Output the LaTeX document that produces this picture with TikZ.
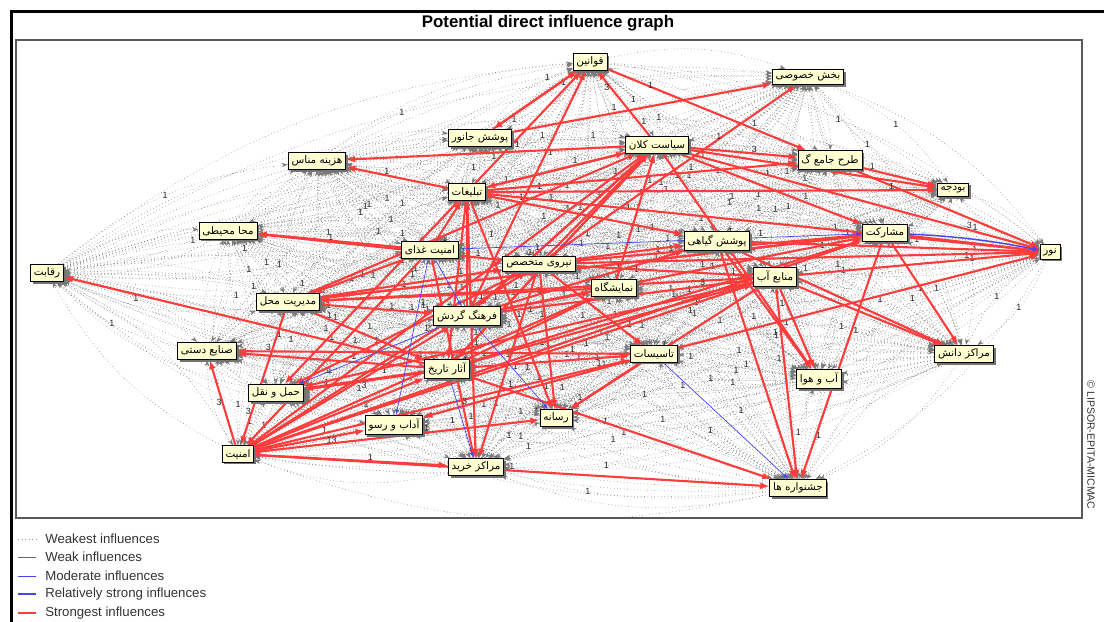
\documentclass[tikz,border=0pt]{standalone}
\usepackage{fontspec}
\setmainfont{Liberation Sans}
\newfontfamily\farsi[Script=Arabic]{DejaVu Sans}
\TeXXeTstate=1
\newcommand\fa[1]{{\farsi\beginR #1\endR}}
\usetikzlibrary{arrows.meta,shadows}
\definecolor{vbox}{RGB}{255,255,210}
\definecolor{strongred}{RGB}{255,60,60}
\definecolor{modblue}{RGB}{70,70,235}
\pgfdeclarelayer{bg}
\pgfsetlayers{bg,main}

\begin{document}
\begin{tikzpicture}[x={(0.025cm,0)},y={(0,-0.025cm)},
		var/.style={draw=black,fill=vbox,line width=0.6pt,inner sep=2.4pt,
			font=\fontsize{7.4}{8.5}\selectfont,
			drop shadow={shadow xshift=1.6pt,shadow yshift=-1.6pt,fill=black!55,opacity=1}},
		weakest/.style={draw=black!52,dotted,line width=0.4pt,-{Stealth[length=4.5pt,width=3pt]}},
		strongest/.style={draw=strongred,line width=1.5pt,-{Latex[length=6.5pt,width=5pt]}},
		moderate/.style={draw=modblue,line width=0.5pt,-{Latex[length=4pt,width=3pt]}},
		relstrong/.style={draw=modblue,line width=1pt,-{Latex[length=5pt,width=4pt]}},
		num/.style={font=\fontsize{6.4}{7}\selectfont,inner sep=0pt,text=black!85},
		legend/.style={anchor=west,inner sep=0pt,font=\fontsize{9.4}{10}\selectfont,text=black!80}]
		
		\useasboundingbox (0,0) rectangle (1104,622);
		\draw[line width=2.2pt] (11.5,622) -- (11.5,11.5) -- (1104,11.5);
		\draw[black!65,line width=0.8pt] (16,40) rectangle (1082,518);
		\node (title) at (548,23) {\fontsize{12}{13}\selectfont\bfseries Potential direct influence graph};
		\node[rotate=-90,font=\fontsize{7.5}{8}\selectfont,text=black!80] (copyr) at (1091,445) {© LIPSOR-EPITA-MICMAC};
		
		\node[var] (qavanin)    at (590,62)  {\fa{قوانین}};
		\node[var] (khosusi)    at (808,77)  {\fa{بخش خصوصی}};
		\node[var] (janvar)     at (480,138) {\fa{پوشش جانور}};
		\node[var] (siasat)     at (657,145) {\fa{سیاست کلان}};
		\node[var] (hazine)     at (317,161) {\fa{هزینه مناس}};
		\node[var] (tarh)       at (830,160) {\fa{طرح جامع گ}};
		\node[var] (tablig)     at (467,192) {\fa{تبلیغات}};
		\node[var] (budje)      at (953,190) {\fa{بودجه}};
		\node[var] (mohiti)     at (228,231) {\fa{محا محیطی}};
		\node[var] (mosharekat) at (885,233) {\fa{مشارکت}};
		\node[var] (ghaza)      at (430,250) {\fa{امنیت غذای}};
		\node[var] (giahi)      at (717,241) {\fa{پوشش گیاهی}};
		\node[var] (nur)        at (1050,252) {\fa{نور}};
		\node[var] (reghabat)   at (47,273)  {\fa{رقابت}};
		\node[var] (niru)       at (539,264) {\fa{نیروی متخصص}};
		\node[var] (ab)         at (775,277) {\fa{منابع آب}};
		\node[var] (namayesh)   at (614,288) {\fa{نمایشگاه}};
		\node[var] (modiriat)   at (288,302) {\fa{مدیریت محل}};
		\node[var] (farhang)    at (467,316) {\fa{فرهنگ گردش}};
		\node[var] (sanaye)     at (207,351) {\fa{صنایع دستی}};
		\node[var] (tasisat)    at (654,354) {\fa{تاسیسات}};
		\node[var] (danesh)     at (964,354) {\fa{مراکز دانش}};
		\node[var] (asar)       at (447,369) {\fa{آثار تاریخ}};
		\node[var] (havva)      at (819,379) {\fa{آب و هوا}};
		\node[var] (haml)       at (276,393) {\fa{حمل و نقل}};
		\node[var] (resane)     at (556,418) {\fa{رسانه}};
		\node[var] (adab)       at (394,425) {\fa{آداب و رسو}};
		\node[var] (amniat)     at (238,454) {\fa{امنیت}};
		\node[var] (kharid)     at (476,467) {\fa{مراکز خرید}};
		\node[var] (jashn)      at (798,488) {\fa{جشنواره ها}};
		
		\def\vlist{qavanin,khosusi,janvar,siasat,hazine,tarh,tablig,budje,mohiti,mosharekat,ghaza,giahi,nur,reghabat,niru,ab,namayesh,modiriat,farhang,sanaye,tasisat,danesh,asar,havva,haml,resane,adab,amniat,kharid,jashn}
		
		\begin{pgfonlayer}{bg}
		\begin{scope}
			\clip (16,40) rectangle (1082,518);
			\foreach \a [count=\i] in \vlist {
				\foreach \b [count=\j] in \vlist {
					\ifnum\i<\j
					\pgfmathtruncatemacro\ka{mod(\i+2*\j,3)}
					\pgfmathtruncatemacro\kb{mod(2*\i+\j,3)}
					\ifnum\ka=0 \def\la{1}\else\def\la{}\fi
					\ifnum\kb=0 \def\lb{1}\else\def\lb{}\fi
					\draw[weakest] (\a) to[bend left=16] node[num,pos=.5]{\la} (\b);
					\draw[weakest] (\b) to[bend left=16] node[num,pos=.5]{\lb} (\a);
					\fi
				}
			}
		\end{scope}
		
		\draw[strongest] (janvar) -- node[num,pos=.8,right]{1} (qavanin);
		\draw[strongest] (qavanin) -- (janvar);
		\draw[strongest] (siasat) -- node[num,pos=.75,left]{3} (qavanin);
		\draw[strongest] (tablig) -- (qavanin);
		\draw[strongest] (farhang) -- (qavanin);
		\draw[strongest] (qavanin) -- node[num,pos=.2,right]{1} (tarh);
		\draw[strongest] (janvar) -- (khosusi);
		\draw[strongest] (niru) -- node[num,pos=.7,left]{1} (khosusi);
		\draw[strongest] (siasat) -- (hazine);
		\draw[strongest] (tablig) -- node[num,pos=.6,above]{1} (hazine);
		\draw[strongest] (ghaza) -- (mohiti);
		\draw[strongest] (niru) -- node[num,pos=.7,above]{1} (mohiti);
		\draw[strongest] (asar) -- (reghabat);
		\draw[strongest] (amniat) -- node[num,pos=.5,left]{3} (sanaye);
		\draw[strongest] (asar) -- (sanaye);
		\draw[strongest] (tasisat) -- node[num,pos=.92,above]{3} (sanaye);
		\draw[strongest,line width=2.2pt] (asar) -- node[num,pos=.5,below]{3} (haml);
		\draw[strongest] (tablig) -- (haml);
		\draw[strongest] (niru) -- (haml);
		\draw[strongest] (ab) -- (haml);
		\draw[strongest] (ghaza) -- (modiriat);
		\draw[strongest] (namayesh) -- (modiriat);
		\draw[strongest] (mosharekat) -- (modiriat);
		\draw[strongest] (modiriat) -- node[num,pos=.75,left]{3} (amniat);
		\draw[strongest] (ghaza) -- (amniat);
		\draw[strongest] (amniat) -- node[num,pos=.7,below]{13} (adab);
		\draw[strongest] (amniat) -- node[num,pos=.6,above]{1} (kharid);
		\draw[strongest] (amniat) -- node[num,pos=.5,above]{1} (jashn);
		\draw[strongest] (amniat) -- (asar);
		\draw[strongest] (amniat) -- (tasisat);
		\draw[strongest] (amniat) -- (niru);
		\draw[strongest] (amniat) -- (ab);
		\draw[strongest] (amniat) -- (mosharekat);
		\draw[strongest] (amniat) -- (namayesh);
		\draw[strongest] (amniat) -- (farhang);
		\draw[strongest] (amniat) -- node[num,pos=.6,above]{3} (resane);
		\draw[strongest] (amniat) -- (siasat);
		\draw[strongest] (tasisat) -- (resane);
		\draw[strongest] (niru) -- (resane);
		\draw[strongest] (ab) -- (resane);
		\draw[strongest] (tablig) -- (resane);
		\draw[strongest] (niru) -- (kharid);
		\draw[strongest] (tablig) -- (kharid);
		\draw[strongest] (ghaza) -- (kharid);
		\draw[strongest] (ab) -- (jashn);
		\draw[strongest] (mosharekat) -- (jashn);
		\draw[strongest] (giahi) -- (jashn);
		\draw[strongest] (asar) -- (jashn);
		\draw[strongest] (ab) -- (havva);
		\draw[strongest] (giahi) -- (havva);
		\draw[strongest] (siasat) -- (havva);
		\draw[strongest] (mosharekat) -- (danesh);
		\draw[strongest] (ab) -- (danesh);
		\draw[strongest] (giahi) -- (danesh);
		\draw[strongest] (mosharekat) -- node[num,pos=.5,below]{3} (nur);
		\draw[strongest] (tarh) -- (nur);
		\draw[strongest] (siasat) -- node[num,pos=.8,above]{3} (nur);
		\draw[strongest] (tablig) -- (nur);
		\draw[strongest] (ab) -- node[num,pos=.7,above]{1} (nur);
		\draw[strongest] (giahi) -- (nur);
		\draw[strongest] (tasisat) -- (nur);
		\draw[strongest] (niru) -- (nur);
		\draw[strongest] (tarh) -- (budje);
		\draw[strongest] (siasat) -- (budje);
		\draw[strongest] (tablig) -- node[num,pos=.9,above]{1} (budje);
		\draw[strongest] (niru) -- (mosharekat);
		\draw[strongest] (siasat) -- (mosharekat);
		\draw[strongest] (farhang) -- (mosharekat);
		\draw[strongest] (asar) -- (mosharekat);
		\draw[strongest] (modiriat) -- (mosharekat);
		\draw[strongest] (siasat) -- node[num,pos=.6,above]{3} (tarh);
		\draw[strongest] (tablig) -- (tarh);
		\draw[strongest] (tablig) -- (siasat);
		\draw[strongest] (farhang) -- (siasat);
		\draw[strongest] (asar) -- (siasat);
		\draw[strongest] (niru) -- (siasat);
		\draw[strongest] (modiriat) -- (siasat);
		\draw[strongest] (namayesh) -- (siasat);
		\draw[strongest] (siasat) -- (tablig);
		\draw[strongest] (farhang) -- (tablig);
		\draw[strongest] (ghaza) -- (tablig);
		\draw[strongest] (niru) -- (giahi);
		\draw[strongest] (tablig) -- (giahi);
		\draw[strongest] (farhang) -- (giahi);
		\draw[strongest] (asar) -- (ab);
		\draw[strongest] (modiriat) -- (ab);
		\draw[strongest] (farhang) -- node[num,pos=.8,above]{3} (ab);
		\draw[strongest] (niru) -- (ab);
		\draw[strongest] (modiriat) -- (niru);
		\draw[strongest] (farhang) -- (namayesh);
		\draw[strongest] (asar) -- (namayesh);
		\draw[strongest] (modiriat) -- (farhang);
		\draw[strongest] (siasat) -- (farhang);
		\draw[strongest] (asar) -- (tasisat);
		\draw[strongest] (niru) -- (tasisat);
		\draw[strongest] (modiriat) -- (asar);
		\draw[strongest] (tablig) -- (asar);
		\draw[strongest] (siasat) -- (asar);
		\draw[strongest] (tasisat) -- node[num,pos=.8,above]{3} (adab);
		
		\draw[moderate] (ghaza) -- (adab);
		\draw[moderate] (asar) -- (kharid);
		\draw[moderate] (tasisat) -- (jashn);
		\draw[moderate] (farhang) -- (haml);
		\draw[moderate] (ghaza) -- (farhang);
		\draw[moderate] (ghaza) -- (mosharekat);
		\draw[moderate] (farhang) -- (resane);
		\draw[relstrong] (mosharekat) to[bend left=4] (nur);
		\end{pgfonlayer}
		
		\draw[black!40,dotted,line width=0.5pt] (18,539) -- (36,539);
		\draw[black!60,line width=0.5pt] (18,557) -- (36,557);
		\draw[modblue,line width=0.5pt] (18,576) -- (36,576);
		\draw[modblue,line width=1.2pt] (18,594) -- (36,594);
		\draw[strongred,line width=1.2pt] (18,613) -- (36,613);
		\node[legend] (leg1) at (45,539) {Weakest influences};
		\node[legend] (leg2) at (45,557) {Weak influences};
		\node[legend] (leg3) at (45,576) {Moderate influences};
		\node[legend] (leg4) at (45,594) {Relatively strong influences};
		\node[legend] (leg5) at (45,613) {Strongest influences};
		
\end{tikzpicture}
\end{document}
